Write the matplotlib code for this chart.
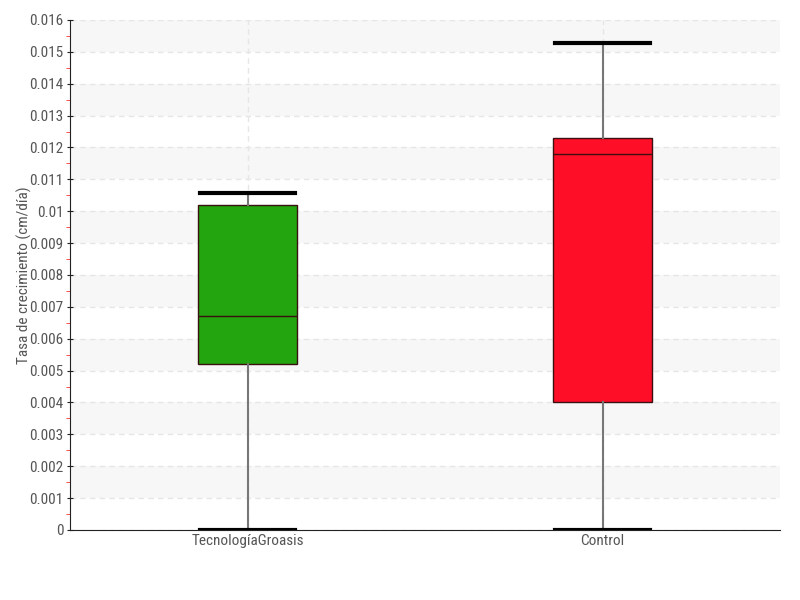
import matplotlib
matplotlib.use("Agg")
import matplotlib.pyplot as plt
from matplotlib import font_manager
from matplotlib.ticker import MultipleLocator, FuncFormatter

categories = ["TecnologíaGroasis", "Control"]
whislo = [0.0, 0.0]
q1 = [0.0052, 0.0040]
med = [0.0067, 0.0118]
q3 = [0.0102, 0.0123]
whishi = [0.01057, 0.01528]
colors = ["#22a50f", "#ff0e27"]
yticks = [0, 0.001, 0.002, 0.003, 0.004, 0.005, 0.006, 0.007, 0.008,
          0.009, 0.01, 0.011, 0.012, 0.013, 0.014, 0.015, 0.016]

names = {f.name for f in font_manager.fontManager.ttflist}
fam = [n for n in ['Roboto Condensed', 'Liberation Sans Narrow', 'Roboto'] if n in names]
plt.rcParams['font.family'] = fam[:1] + ['DejaVu Sans']

fig = plt.figure(figsize=(8, 6), dpi=100)
ax = fig.add_axes([0.0875, 0.1167, 0.8875, 0.85])

# alternating bands
for i in range(1, len(yticks) - 1, 2):
    ax.axhspan(yticks[i], yticks[i + 1], color="#f7f7f7", zorder=0, lw=0)

stats = []
for i, c in enumerate(categories):
    stats.append(dict(label=c, whislo=whislo[i], q1=q1[i], med=med[i],
                      q3=q3[i], whishi=whishi[i], fliers=[]))

bp = ax.bxp(stats, positions=range(len(categories)), widths=0.28,
            patch_artist=True, showfliers=False,
            boxprops=dict(edgecolor="#3a1010", linewidth=1),
            medianprops=dict(color="#3a1010", linewidth=1),
            whiskerprops=dict(color="#777777", linewidth=1.5),
            capprops=dict(color="black", linewidth=3), capwidths=0.27)
for patch, col in zip(bp['boxes'], colors):
    patch.set_facecolor(col)
for l in bp['whiskers'] + bp['caps'] + bp['medians']:
    l.set_zorder(3)
for b in bp['boxes']:
    b.set_zorder(2)

ax.set_xlim(-0.5, len(categories) - 0.5)
ax.set_ylim(0, 0.016)
ax.set_yticks(yticks)
ax.yaxis.set_major_formatter(FuncFormatter(lambda v, p: ("%g" % round(v, 3))))
ax.yaxis.set_minor_locator(MultipleLocator(0.0005))
ax.tick_params(axis='y', which='minor', colors='#ff3030', length=3, direction='out')
ax.tick_params(axis='y', which='major', length=5, direction='inout', color='#222222',
               labelcolor='#555555', labelsize=11, pad=2)
ax.tick_params(axis='x', length=0, labelcolor='#555555', labelsize=11, pad=3)

ax.grid(axis='y', color='#e6e6e6', linestyle=(0, (4, 3)), linewidth=1, zorder=1)
ax.grid(axis='x', color='#e6e6e6', linestyle=(0, (4, 3)), linewidth=1, zorder=1)
ax.set_axisbelow(True)

for s in ['top', 'right']:
    ax.spines[s].set_visible(False)
ax.spines['left'].set_color('#222222')
ax.spines['bottom'].set_color('#222222')

ax.set_ylabel("Tasa de crecimiento (cm/día)", color='#555555', fontsize=11)
ax.yaxis.set_label_coords(-0.053, 0.5)

fig.savefig("out.png", dpi=100)
